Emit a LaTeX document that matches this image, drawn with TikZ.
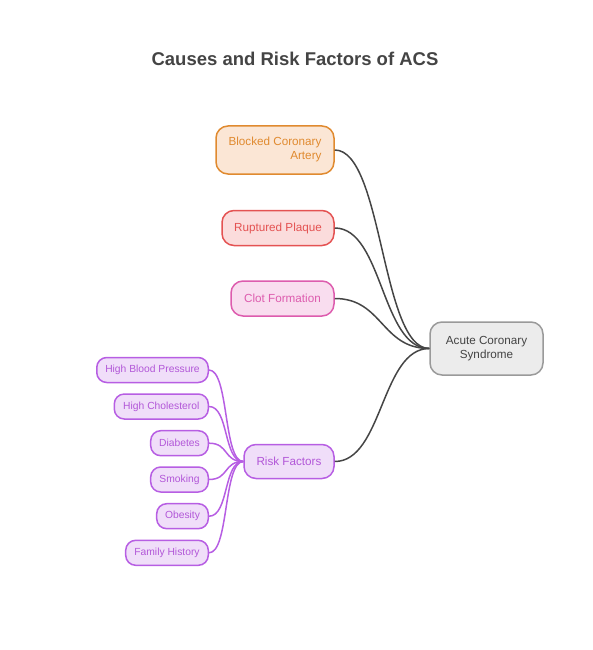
\documentclass[tikz,border=0pt]{standalone}
\usepackage{fontspec}
\setmainfont{Liberation Sans}
\usepackage{tikz}
\usetikzlibrary{calc}
\definecolor{titlegray}{HTML}{444444}
\definecolor{linegray}{HTML}{454545}
\definecolor{orangeline}{HTML}{E08A2F}
\definecolor{orangefill}{HTML}{FBE6D5}
\definecolor{redline}{HTML}{E45252}
\definecolor{redfill}{HTML}{FBDCDC}
\definecolor{pinkline}{HTML}{DD5CAE}
\definecolor{pinkfill}{HTML}{F9DDEF}
\definecolor{grayline}{HTML}{9A9A9A}
\definecolor{grayfill}{HTML}{ECECEC}
\definecolor{purpleline}{HTML}{B75EE3}
\definecolor{purplefill}{HTML}{F0DEF9}
\definecolor{purpletext}{HTML}{B257D8}

\begin{document}
\begin{tikzpicture}[x=1pt,y=-1pt]
            \tikzstyle{box}=[rounded corners=12pt,line width=1.5pt,inner sep=0pt,font=\fontsize{11.7}{14}\selectfont]
            \tikzstyle{leaf}=[rounded corners=10pt,line width=1.5pt,inner sep=0pt,minimum height=25pt,draw=purpleline,fill=purplefill,text=purpletext,font=\fontsize{10.3}{12}\selectfont]
            \tikzstyle{link}=[line width=1.5pt,draw=linegray,out=0,in=180,distance=48pt]
            \tikzstyle{twig}=[line width=1.5pt,draw=purpleline,out=0,in=180,distance=20pt]
            \useasboundingbox (0,0) rectangle (592,650);
            \node (title) at (295,59) {\fontsize{18.5}{22}\selectfont\bfseries\color{titlegray}Causes and Risk Factors of ACS};
            \node[box,draw=orangeline,fill=orangefill,text=orangeline,minimum width=118pt,minimum height=48pt] (blocked) at (275,150) {\begin{tabular}{@{}r@{}}Blocked Coronary\\Artery\end{tabular}\hspace{10pt}};
            \node[box,draw=redline,fill=redfill,text=redline,minimum width=112pt,minimum height=35pt] (plaque) at (278,228) {Ruptured Plaque};
            \node[box,draw=pinkline,fill=pinkfill,text=pinkline,minimum width=103pt,minimum height=35pt] (clot) at (282.5,298.5) {Clot Formation};
            \node[box,draw=grayline,fill=grayfill,text=titlegray,minimum width=113pt,minimum height=53pt] (acs) at (486.5,348.5) {\begin{tabular}{@{}c@{}}Acute Coronary\\Syndrome\end{tabular}};
            \node[box,draw=purpleline,fill=purplefill,text=purpletext,minimum width=90pt,minimum height=34pt] (risk) at (289,461.5) {Risk Factors};
            \node[leaf,minimum width=111.5pt] (pressure) at (152.5,370) {High Blood Pressure};
            \node[leaf,minimum width=94pt] (cholesterol) at (161.3,406.5) {High Cholesterol};
            \node[leaf,minimum width=57.6pt] (diabetes) at (179.5,443.2) {Diabetes};
            \node[leaf,minimum width=57.6pt] (smoking) at (179.5,479.5) {Smoking};
            \node[leaf,minimum width=51.6pt] (obesity) at (182.5,516.2) {Obesity};
            \node[leaf,minimum width=82.6pt] (family) at (167,552.8) {Family History};
            \draw[link] (blocked.east) to (acs.west);
            \draw[link] (plaque.east) to (acs.west);
            \draw[link] (clot.east) to (acs.west);
            \draw[link] (risk.east) to (acs.west);
            \foreach \f in {pressure,cholesterol,diabetes,smoking,obesity,family}
                \draw[twig] (\f.east) to (risk.west);
        \end{tikzpicture}
\end{document}
